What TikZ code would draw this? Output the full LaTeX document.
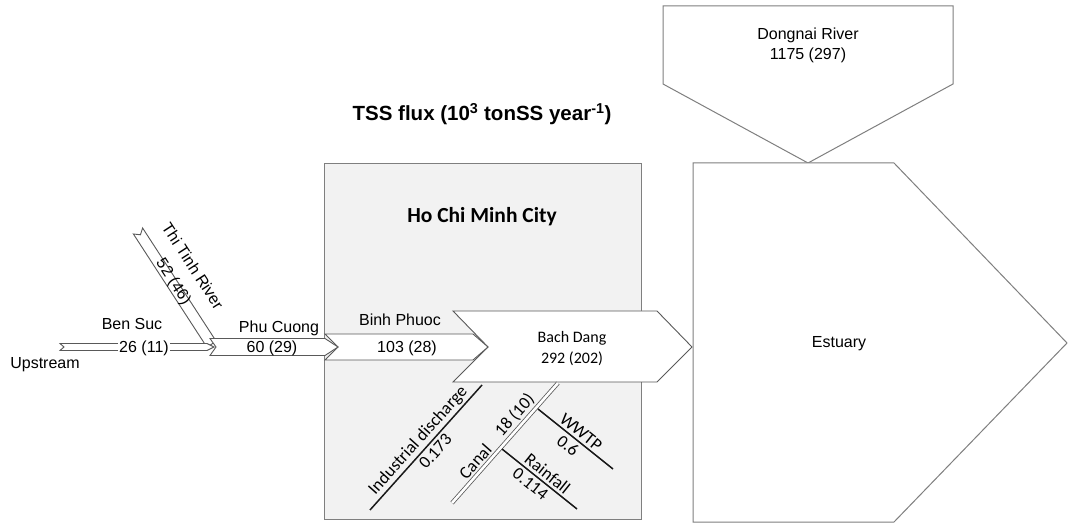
\documentclass[tikz,border=0pt]{standalone}
\usepackage{fontspec}
\setmainfont{Liberation Sans}
\newfontfamily\calfont{Carlito}
\usetikzlibrary{calc}
\definecolor{boxgray}{HTML}{F2F2F2}
\definecolor{edgegray}{HTML}{7F7F7F}
\definecolor{arrowedge}{HTML}{595959}
\tikzset{
  flow/.style={draw=arrowedge, fill=white, line width=0.9pt, line join=miter},
  region/.style={draw=edgegray, fill=boxgray, line width=1pt},
  outline/.style={draw=edgegray, fill=white, line width=1pt},
  lbl/.style={font=\fontsize{16}{19}\selectfont, inner sep=0pt},
  clbl/.style={font=\calfont\fontsize{16}{19}\selectfont, inner sep=0pt},
  rlbl/.style={font=\calfont\fontsize{17.5}{21}\selectfont, inner sep=0pt, sloped},
  src/.style={draw=black!90, line width=1.5pt},
  canalline/.style={draw=arrowedge, double=white, double distance=2.6pt, line width=0.8pt},
  onarrow/.style={fill=white, inner sep=1pt},
}
\begin{document}
\begin{tikzpicture}[x=1pt, y=-1pt]
\useasboundingbox (0,0) rectangle (1068,526);

% Ho Chi Minh City region
\draw[region] (324,164) rectangle (641,519);

% Dongnai River and Estuary
\draw[outline] (663,6) -- (953,6) -- (953,84) -- (808,163) -- (663,84) -- cycle;
\draw[outline] (693,163) -- (894,163) -- (1067,343) -- (894,522) -- (693,522) -- cycle;

% Thi Tinh River arrow
\begin{scope}[shift={(138,231)}, rotate=-57]
  \draw[flow] (0,-5.5) -- (135,-5.5) -- (135,5.5) -- (0,5.5) -- (4.5,0) -- cycle;
\end{scope}

% Ben Suc (upstream) arrow
\draw[flow] (60,343.5) -- (207,343.5) -- (214,347) -- (207,350.5) -- (60,350.5) -- (64,347) -- cycle;

% Bach Dang arrow
\draw[flow] (453,311) -- (657,311) -- (692,347) -- (657,382) -- (453,382) -- (488,347) -- cycle;

% Binh Phuoc arrow
\draw[flow] (325,334) -- (473,334) -- (488,347) -- (473,360) -- (325,360) -- (338,347) -- cycle;

% Phu Cuong arrow
\draw[flow] (210,338.5) -- (325,338.5) -- (338,347) -- (325,355.5) -- (210,355.5) -- (216,347) -- cycle;

% inputs inside the city
\coordinate (ind1) at (370,510);
\coordinate (ind2) at (482,385);
\coordinate (can1) at (452,503);
\coordinate (can2) at (558,383);
\coordinate (ww1) at (538,409);
\coordinate (ww2) at (613,469);
\coordinate (rf1) at (502,449);
\coordinate (rf2) at (577,509);
\draw[src] (ind1) -- (ind2)
  node[rlbl, pos=0.5, above=2pt] (indl) {Industrial discharge}
  node[rlbl, pos=0.52, below=3pt] (indv) {0.173};
\draw[canalline] (can1) -- (can2)
  node[rlbl, pos=0.29, above=3.5pt] (canl) {Canal}
  node[rlbl, pos=0.67, above=3pt] (canv) {18 (10)};
\draw[src] (ww1) -- (ww2)
  node[rlbl, pos=0.5, above=2.5pt] (wwl) {WWTP}
  node[rlbl, pos=0.48, below=3pt] (wwv) {0.6};
\draw[src] (rf1) -- (rf2)
  node[rlbl, pos=0.53, above=2.5pt] (rfl) {Rainfall}
  node[rlbl, pos=0.46, below=3pt] (rfv) {0.114};

% titles
\node[font=\bfseries\fontsize{20.5}{24}\selectfont, anchor=base, inner sep=0pt] (title) at (482,121)
  {TSS flux (10\textsuperscript{3} tonSS year\textsuperscript{-1})};
\node[font=\calfont\bfseries\fontsize{21.5}{25}\selectfont, anchor=base, inner sep=0pt] (hcmc) at (482,223) {Ho Chi Minh City};

% labels
\node[lbl, anchor=base] (up) at (45,369) {Upstream};
\node[lbl, anchor=base] (bensuc) at (132,330) {Ben Suc};
\node[lbl, anchor=base, onarrow] (bensucv) at (144,352.5) {26 (11)};
\node[lbl, anchor=base] (phucuong) at (279,333) {Phu Cuong};
\node[lbl, anchor=base] (phucuongv) at (272,352.5) {60 (29)};
\node[lbl, rotate=-57] (thitinh) at (193,266) {Thi Tinh River};
\node[lbl, rotate=-57] (thitinhv) at (173,282) {52 (46)};
\node[lbl, anchor=base] (binhphuoc) at (400,326) {Binh Phuoc};
\node[lbl, anchor=base] (binhphuocv) at (407,352.5) {103 (28)};
\node[clbl, anchor=base] (bachdang) at (572,343) {Bach Dang};
\node[clbl, anchor=base] (bachdangv) at (572,363) {292 (202)};
\node[lbl, anchor=base] (dongnai) at (808,40) {Dongnai River};
\node[lbl, anchor=base] (dongnaiv) at (808,60) {1175 (297)};
\node[lbl, anchor=base] (estuary) at (839,348) {Estuary};
\end{tikzpicture}
\end{document}
